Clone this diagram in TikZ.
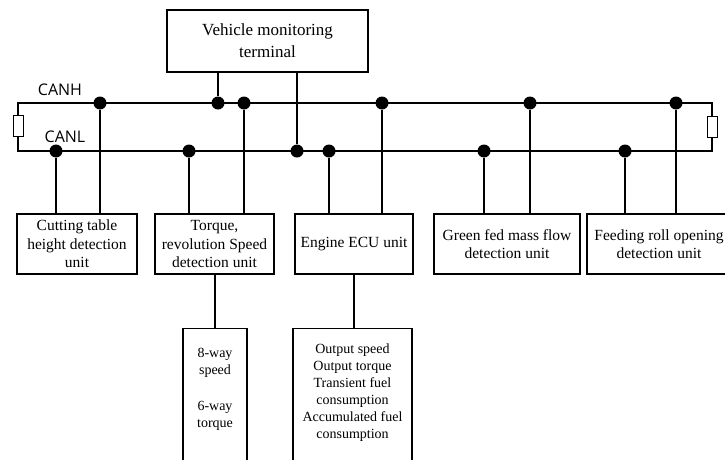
\documentclass[tikz,border=0pt]{standalone}
\usepackage{fontspec}
\setmainfont{Liberation Serif}
\newfontfamily\busfont{Open Sans}
\begin{document}
\begin{tikzpicture}[x=1pt,y=-1pt,
  unitbox/.style={draw,line width=1.2pt,align=center,inner sep=0pt,
    minimum height=60pt,font=\fontsize{15.5}{18.6}\selectfont},
  listbox/.style={draw,line width=1.2pt,align=center,anchor=north,
    inner xsep=0pt,text depth=160pt,font=\fontsize{14}{17}\selectfont},
  joint/.style={circle,fill,inner sep=0pt,minimum size=13pt},
  resistor/.style={draw,fill=white,line width=0.8pt,inner sep=0pt,
    minimum width=10pt,minimum height=21pt},
  bus/.style={line width=1.6pt},
  wire/.style={line width=1.2pt}]

\useasboundingbox (0,0) rectangle (725,459);

% Terminal
\node[unitbox,minimum width=201pt,minimum height=62pt,
  font=\fontsize{17}{22}\selectfont] (term) at (267.5,41)
{Vehicle monitoring\\terminal};

% Bus
\node[resistor] (rl) at (18,125.5) {};
\node[resistor] (rr) at (712,127) {};
\coordinate (hl) at (18,103);
\coordinate (hr) at (712,103);
\coordinate (ll) at (18,151);
\coordinate (lr) at (712,151);

\draw[bus] (rl.north) -- (hl) -- (hr) -- (rr.north);
\draw[bus] (rl.south) -- (ll) -- (lr) -- (rr.south);

\node[font=\busfont\fontsize{16}{18}\selectfont] (canh) at (60,90) {CANH};
\node[font=\busfont\fontsize{16}{18}\selectfont] (canl) at (65,137) {CANL};

% Joints
\foreach \x [count=\i] in {100,218,244,382,530,676}
  \node[joint] (h\i) at (\x,103) {};
\foreach \x [count=\i] in {56,189,297,329,484,625}
  \node[joint] (l\i) at (\x,151) {};

% Units
\node[unitbox,minimum width=120pt] (cut) at (77,244)
{Cutting table\\height detection\\unit};

\node[unitbox,minimum width=119pt] (torq) at (214.5,244)
{Torque,\\revolution Speed\\detection unit};

\node[unitbox,minimum width=118pt] (ecu) at (354,244)
{Engine ECU unit};

\node[unitbox,minimum width=146pt] (green) at (507,244)
{Green fed mass flow\\detection unit};

\node[unitbox,minimum width=144pt] (feed) at (659,244)
{Feeding roll opening\\detection unit};

% Lists
\node[listbox,minimum width=64pt,inner ysep=20pt] (ways) at (215,328)
{8-way\\speed\\[19pt]6-way\\torque};

\node[listbox,minimum width=119pt,inner ysep=15pt] (out) at (352.5,328)
{Output speed\\Output torque\\Transient fuel\\consumption\\Accumulated fuel\\consumption};

% Connections
\draw[wire] (h2) -- (h2 |- term.south);
\draw[wire] (l3) -- (l3 |- term.south);

\draw[wire] (l1) -- (l1 |- cut.north);
\draw[wire] (h1) -- (h1 |- cut.north);
\draw[wire] (l2) -- (l2 |- torq.north);
\draw[wire] (h3) -- (h3 |- torq.north);
\draw[wire] (l4) -- (l4 |- ecu.north);
\draw[wire] (h4) -- (h4 |- ecu.north);
\draw[wire] (l5) -- (l5 |- green.north);
\draw[wire] (h5) -- (h5 |- green.north);
\draw[wire] (l6) -- (l6 |- feed.north);
\draw[wire] (h6) -- (h6 |- feed.north);

\draw[wire] (ways.north) -- (ways.north |- torq.south);
\draw[wire] (ecu.south) -- (ecu.south |- out.north);

\end{tikzpicture}
\end{document}
